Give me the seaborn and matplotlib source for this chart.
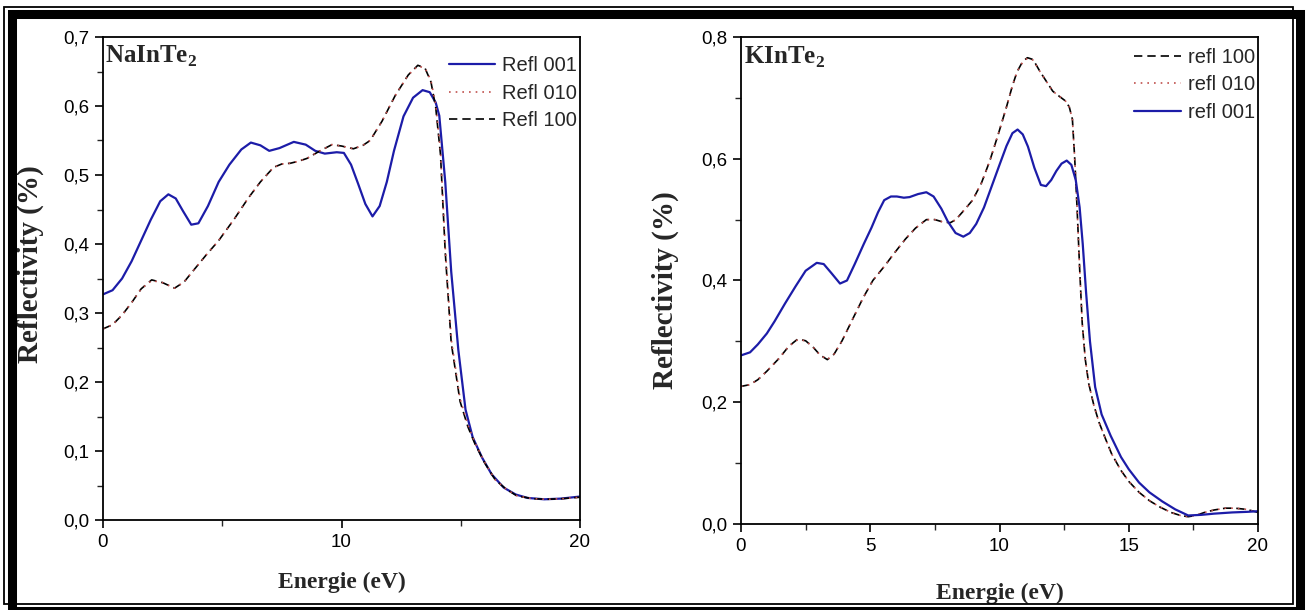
import numpy as np
import pandas as pd
import matplotlib
matplotlib.use("Agg")
import matplotlib.pyplot as plt
from matplotlib.patches import Rectangle
from matplotlib.lines import Line2D
from matplotlib.ticker import FuncFormatter, MultipleLocator
import seaborn as sns

# ---- NaInTe2 (left panel) ----
na_e_001 = [0, 0.4, 0.8, 1.2, 1.6, 2.0, 2.4, 2.74, 3.05, 3.35, 3.7, 4.0, 4.4, 4.85, 5.3, 5.8,
            6.2, 6.6, 6.97, 7.4, 8.0, 8.5, 8.9, 9.3, 9.8, 10.1, 10.4, 10.7, 11.0, 11.3, 11.6,
            11.9, 12.2, 12.6, 13.0, 13.4, 13.7, 13.95, 14.1, 14.35, 14.6, 14.9, 15.2, 15.5,
            15.9, 16.3, 16.8, 17.3, 17.8, 18.5, 19.2, 20]
na_r_001 = [0.327, 0.333, 0.35, 0.375, 0.405, 0.435, 0.462, 0.472, 0.466, 0.448, 0.428, 0.43,
            0.455, 0.49, 0.515, 0.537, 0.547, 0.543, 0.535, 0.539, 0.548, 0.544, 0.535, 0.531,
            0.533, 0.532, 0.515, 0.487, 0.458, 0.44, 0.455, 0.49, 0.535, 0.585, 0.612, 0.623,
            0.62, 0.605, 0.586, 0.49, 0.36, 0.246, 0.16, 0.12, 0.09, 0.066, 0.047, 0.037,
            0.032, 0.030, 0.031, 0.034]

na_e_100 = [0, 0.4, 0.8, 1.2, 1.6, 2.04, 2.5, 3.0, 3.4, 3.8, 4.3, 4.85, 5.5, 6.1, 6.6, 7.15,
            7.5, 7.85, 8.2, 8.55, 9.1, 9.6, 10.0, 10.5, 10.9, 11.2, 11.7, 12.25, 12.8, 13.2,
            13.5, 13.75, 13.95, 14.15, 14.35, 14.6, 14.97, 15.3, 15.6, 16.0, 16.45, 16.9,
            17.35, 18.0, 18.6, 19.3, 20]
na_r_100 = [0.277, 0.283, 0.297, 0.315, 0.335, 0.348, 0.344, 0.336, 0.345, 0.362, 0.383,
            0.405, 0.436, 0.467, 0.49, 0.511, 0.516, 0.517, 0.52, 0.524, 0.535, 0.544, 0.542,
            0.538, 0.543, 0.55, 0.578, 0.615, 0.645, 0.659, 0.655, 0.635, 0.598, 0.53, 0.388,
            0.257, 0.172, 0.135, 0.11, 0.083, 0.058, 0.045, 0.035, 0.031, 0.03, 0.031, 0.033]

na_e_010 = na_e_100
na_r_010 = [0.277, 0.283, 0.297, 0.315, 0.335, 0.347, 0.344, 0.336, 0.345, 0.362, 0.383,
            0.405, 0.436, 0.467, 0.49, 0.511, 0.516, 0.517, 0.52, 0.524, 0.535, 0.544, 0.542,
            0.538, 0.543, 0.55, 0.578, 0.615, 0.645, 0.658, 0.655, 0.637, 0.602, 0.535, 0.395,
            0.262, 0.176, 0.138, 0.112, 0.084, 0.058, 0.045, 0.035, 0.031, 0.03, 0.031, 0.033]

# ---- KInTe2 (right panel) ----
k_e_001 = [0, 0.35, 0.65, 1.0, 1.3, 1.7, 2.12, 2.5, 2.93, 3.2, 3.5, 3.83, 4.1, 4.4, 4.75,
           5.05, 5.3, 5.54, 5.8, 6.03, 6.3, 6.52, 6.85, 7.17, 7.45, 7.75, 8.0, 8.3, 8.6, 8.85,
           9.1, 9.4, 9.7, 10.0, 10.27, 10.5, 10.7, 10.9, 11.1, 11.35, 11.6, 11.8, 12.0, 12.2,
           12.4, 12.6, 12.78, 12.95, 13.1, 13.22, 13.35, 13.5, 13.7, 13.95, 14.3, 14.7, 15.0,
           15.4, 15.8, 16.3, 16.8, 17.3, 17.8, 18.3, 19.0, 19.6, 20]
k_r_001 = [0.277, 0.282, 0.295, 0.313, 0.333, 0.362, 0.391, 0.416, 0.429, 0.427, 0.412, 0.395,
           0.4, 0.427, 0.46, 0.487, 0.512, 0.532, 0.538, 0.538, 0.536, 0.537, 0.542, 0.545,
           0.538, 0.518, 0.497, 0.478, 0.472, 0.478, 0.493, 0.52, 0.555, 0.59, 0.621, 0.642,
           0.648, 0.64, 0.62, 0.585, 0.557, 0.555, 0.565, 0.58, 0.592, 0.597, 0.59, 0.565,
           0.52, 0.46, 0.38, 0.3, 0.225, 0.18, 0.145, 0.11, 0.09, 0.068, 0.052, 0.037, 0.024,
           0.014, 0.015, 0.017, 0.019, 0.02, 0.021]

k_e_100 = [0, 0.35, 0.65, 1.0, 1.47, 1.85, 2.2, 2.5, 2.8, 3.05, 3.34, 3.6, 3.91, 4.3, 4.73,
           5.1, 5.54, 5.95, 6.36, 6.75, 7.17, 7.5, 7.82, 8.1, 8.31, 8.6, 8.96, 9.3, 9.62, 9.95,
           10.27, 10.5, 10.68, 10.9, 11.08, 11.3, 11.57, 11.8, 12.06, 12.3, 12.55, 12.7, 12.82,
           12.91, 13.0, 13.1, 13.2, 13.32, 13.45, 13.65, 13.85, 14.1, 14.34, 14.7, 15.0, 15.4,
           15.81, 16.2, 16.63, 17.0, 17.3, 17.6, 17.93, 18.3, 18.74, 19.1, 19.56, 20]
k_r_100 = [0.226, 0.229, 0.237, 0.251, 0.272, 0.292, 0.304, 0.301, 0.29, 0.278, 0.27, 0.279,
           0.301, 0.335, 0.372, 0.4, 0.423, 0.446, 0.468, 0.486, 0.5, 0.5, 0.496, 0.495, 0.5,
           0.514, 0.532, 0.56, 0.596, 0.64, 0.685, 0.72, 0.743, 0.76, 0.766, 0.763, 0.743,
           0.728, 0.711, 0.703, 0.695, 0.685, 0.665, 0.6, 0.52, 0.42, 0.33, 0.27, 0.231, 0.195,
           0.167, 0.14, 0.115, 0.088, 0.07, 0.052, 0.038, 0.028, 0.019, 0.014, 0.012, 0.014,
           0.019, 0.023, 0.026, 0.026, 0.024, 0.019]

k_e_010 = k_e_100
k_r_010 = [0.226, 0.229, 0.237, 0.251, 0.272, 0.292, 0.303, 0.301, 0.29, 0.278, 0.27, 0.279,
           0.301, 0.335, 0.372, 0.4, 0.423, 0.446, 0.468, 0.486, 0.5, 0.5, 0.496, 0.495, 0.5,
           0.514, 0.532, 0.56, 0.596, 0.64, 0.685, 0.72, 0.743, 0.759, 0.765, 0.762, 0.743,
           0.728, 0.711, 0.703, 0.695, 0.685, 0.665, 0.6, 0.52, 0.42, 0.33, 0.27, 0.231, 0.195,
           0.167, 0.14, 0.115, 0.088, 0.07, 0.052, 0.038, 0.028, 0.019, 0.014, 0.012, 0.014,
           0.019, 0.023, 0.026, 0.026, 0.024, 0.019]

blue = "#1c1ca8"
red = "#c0504d"
dash = (0, (5, 3))
dot = (0, (1, 3))

sns.set_style("ticks")
plt.rcParams['font.family'] = ['Liberation Sans', 'DejaVu Sans']
plt.rcParams['mathtext.fontset'] = 'custom'
plt.rcParams['mathtext.rm'] = 'Liberation Serif:bold'
plt.rcParams['mathtext.bf'] = 'Liberation Serif:bold'

fig = plt.figure(figsize=(13.11, 6.10), dpi=100)
W, H = 1311, 610


def px_axes(x0, x1, ytop, ybot):
    return fig.add_axes([x0 / W, (H - ybot) / H, (x1 - x0) / W, (ybot - ytop) / H])


ax1 = px_axes(103, 580, 37, 520)
ax2 = px_axes(741, 1258, 37, 524)

comma = FuncFormatter(lambda v, p: ("%.1f" % v).replace(".", ","))
leg_kw = dict(frameon=False, fontsize=14.5, handlelength=2.3, handletextpad=0.35,
              labelspacing=0.42, borderaxespad=0, borderpad=0, loc="upper right")

# left
sns.lineplot(x=na_e_001, y=na_r_001, ax=ax1, color=blue, lw=1.6)
sns.lineplot(x=na_e_100, y=na_r_100, ax=ax1, color="black", lw=1.2, linestyle=dash)
sns.lineplot(x=na_e_010, y=na_r_010, ax=ax1, color=red, lw=1.2, linestyle=dot)
h1 = [Line2D([], [], color=blue, lw=1.6),
      Line2D([], [], color=red, lw=1.2, linestyle=dot),
      Line2D([], [], color="black", lw=1.2, linestyle=dash)]
ax1.legend(h1, ["Refl 001", "Refl 010", "Refl 100"], bbox_to_anchor=(0.994, 0.96), **leg_kw)
ax1.set_xlim(0, 20)
ax1.set_ylim(0, 0.7)
ax1.xaxis.set_major_locator(MultipleLocator(10))
ax1.xaxis.set_minor_locator(MultipleLocator(5))
ax1.yaxis.set_major_locator(MultipleLocator(0.1))
ax1.yaxis.set_minor_locator(MultipleLocator(0.05))
ax1.text(0.005, 0.985, r"NaInTe$_\mathbf{2}$", transform=ax1.transAxes, ha="left", va="top",
         fontsize=18, fontweight="bold", family="Liberation Serif")

# right
sns.lineplot(x=k_e_100, y=k_r_100, ax=ax2, color="black", lw=1.2, linestyle=dash)
sns.lineplot(x=k_e_010, y=k_r_010, ax=ax2, color=red, lw=1.2, linestyle=dot)
sns.lineplot(x=k_e_001, y=k_r_001, ax=ax2, color=blue, lw=1.6)
h2 = [Line2D([], [], color="black", lw=1.2, linestyle=dash),
      Line2D([], [], color=red, lw=1.2, linestyle=dot),
      Line2D([], [], color=blue, lw=1.6)]
ax2.legend(h2, ["refl 100", "refl 010", "refl 001"], bbox_to_anchor=(0.994, 0.978), **leg_kw)
ax2.set_xlim(0, 20)
ax2.set_ylim(0, 0.8)
ax2.xaxis.set_major_locator(MultipleLocator(5))
ax2.xaxis.set_minor_locator(MultipleLocator(2.5))
ax2.yaxis.set_major_locator(MultipleLocator(0.2))
ax2.yaxis.set_minor_locator(MultipleLocator(0.1))
ax2.text(0.005, 0.985, r"KInTe$_\mathbf{2}$", transform=ax2.transAxes, ha="left", va="top",
         fontsize=18, fontweight="bold", family="Liberation Serif")

for ax in (ax1, ax2):
    ax.yaxis.set_major_formatter(comma)
    ax.xaxis.set_major_formatter(FuncFormatter(lambda v, p: "%d" % v))
    for s in ax.spines.values():
        s.set_visible(True)
        s.set_linewidth(1.3)
        s.set_color("black")
    ax.tick_params(which="major", direction="out", length=6, width=1.2, labelsize=13.5,
                   colors="black", pad=4)
    ax.tick_params(which="minor", direction="out", length=4, width=1.0)
    ax.tick_params(top=False, right=False)
    ax.set_ylabel("Reflectivity (%)", fontsize=21, fontweight="bold",
                  family="Liberation Serif")

ax1.yaxis.set_label_coords(-0.124, 0.53)
ax2.yaxis.set_label_coords(-0.12, 0.48)
ax1.set_xlabel("Energie (eV)", fontsize=17, fontweight="bold", family="Liberation Serif",
               labelpad=15)
ax2.set_xlabel("Energie (eV)", fontsize=17, fontweight="bold", family="Liberation Serif",
               labelpad=20)

# double frame around the whole picture
fig.add_artist(Rectangle((12 / W, (H - 611) / H), 1288 / W, 597.5 / H, transform=fig.transFigure,
                         fill=False, edgecolor="black", lw=6.5))
fig.add_artist(Rectangle((3.7 / W, (H - 603.8) / H), 1289.3 / W, 597.3 / H,
                         transform=fig.transFigure, fill=False, edgecolor="black", lw=1.3))

fig.savefig("out.png", dpi=100)
